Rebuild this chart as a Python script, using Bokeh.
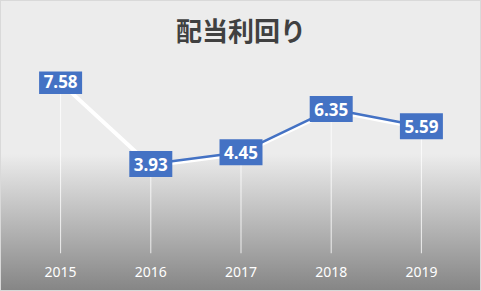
from bokeh.plotting import figure
from bokeh.models import ColumnDataSource, Range1d, Title
from bokeh.transform import dodge
from bokeh.core.properties import value
from bokeh.embed import file_html
from bokeh.resources import INLINE

years = ["2015", "2016", "2017", "2018", "2019"]
yields = [7.58, 3.93, 4.45, 6.35, 5.59]
labels = ["7.58", "3.93", "4.45", "6.35", "5.59"]
title_text = "配当利回り"

src = ColumnDataSource(dict(x=years, y=yields, t=labels, base=[0] * len(years)))
src_blue = ColumnDataSource(dict(x=years[1:], y=yields[1:]))

p = figure(width=481, height=291, x_range=years, y_range=Range1d(0, 8),
           output_backend="svg", toolbar_location=None,
           min_border_left=15, min_border_right=15, min_border_top=71, min_border_bottom=38)

p.background_fill_color = None
p.border_fill_color = None
p.outline_line_color = None
p.styles = {
    "background-image": "linear-gradient(to bottom, #ececec 0%, #ececec 53%, #858585 100%)",
    "box-shadow": "inset 0 0 0 1px #d9d9d9",
}

p.title.text = title_text
p.title.align = "center"
p.title.text_font = "Noto Sans CJK JP"
p.title.text_font_size = "26px"
p.title.text_font_style = "bold"
p.title.text_color = "#404040"

# empty spacer title between the real title and the plot frame
p.add_layout(Title(text=" ", text_font_size="16px", standoff=0), "above")

p.yaxis.visible = False
p.ygrid.grid_line_color = None
p.xgrid.grid_line_color = None

ax = p.xaxis[0]
ax.axis_line_color = None
ax.major_tick_line_color = None
ax.minor_tick_line_color = None
ax.major_label_text_color = "white"
ax.major_label_text_font = "Noto Sans"
ax.major_label_text_font_size = "14px"
ax.major_label_standoff = 7

# drop lines from each point to the axis
p.segment(x0="x", y0="base", x1="x", y1="y", source=src, line_color="white",
          line_width=1, line_alpha=0.8)

p.line("x", dodge("y", -0.07, range=p.y_range), source=src, line_color="white", line_width=4)
p.line("x", "y", source=src_blue, line_color="#4472c4", line_width=2.5)

p.rect("x", "y", width=43, height=26, width_units="screen", height_units="screen",
       source=src, fill_color="#4472c4", line_color=None)
p.text("x", "y", text="t", source=src, text_color="white", text_font=value("Noto Sans"),
       text_font_size="17px", text_font_style="bold", text_align="center", text_baseline="middle")

open("out.html", "w").write(file_html(p, INLINE))
